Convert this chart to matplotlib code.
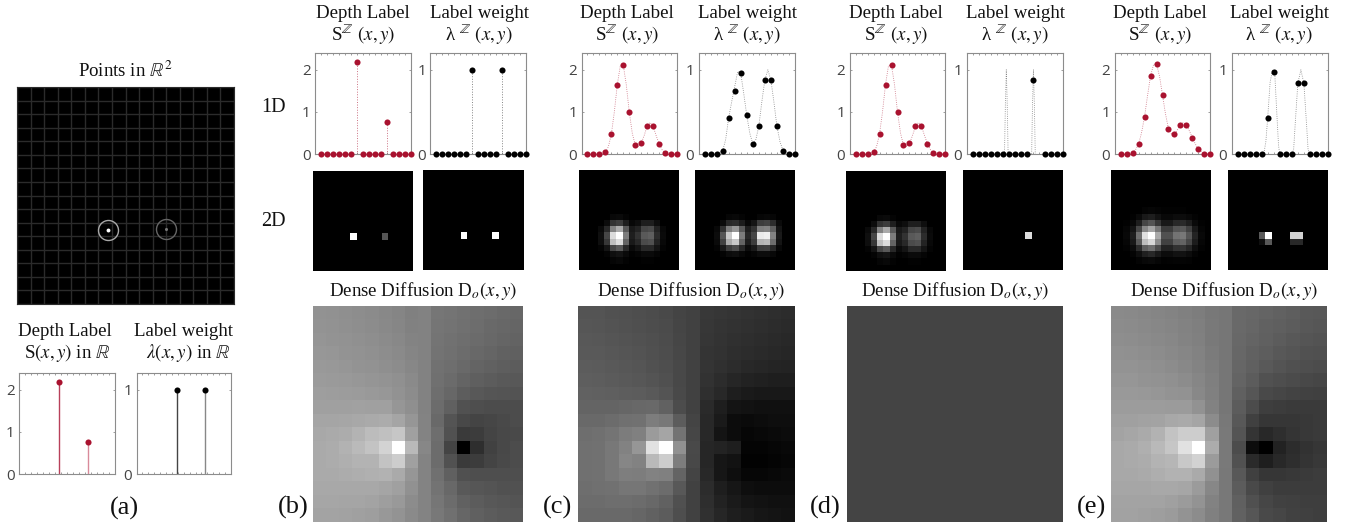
import matplotlib
matplotlib.use('Agg')
import matplotlib.pyplot as plt
from matplotlib.transforms import Bbox
import numpy as np

W, H = 1346, 525
RED = '#A9122F'
TICK_GREY = '#444444'
SPINE_GREY = '#8c8c8c'

plt.rcParams['font.family'] = ['Liberation Serif', 'DejaVu Serif']
plt.rcParams['mathtext.fontset'] = 'stix'

POSITIONS = list(range(1, 17))

# panel (a): continuous labels
a_stem_x = [6.7, 11.45]
a_depth = [2.18, 0.75]
a_weight_x = [6.8, 11.55]
a_weight = [1.0, 1.0]

# panel (b)
b_depth = [0, 0, 0, 0, 0, 0, 2.18, 0, 0, 0, 0, 0.75, 0, 0, 0, 0]
b_weight = [0, 0, 0, 0, 0, 0, 1, 0, 0, 0, 0, 1, 0, 0, 0, 0]

# panels (c) and (d) share the depth curve
c_depth = [0, 0, 0, 0.05, 0.47, 1.65, 2.11, 1.0, 0.21, 0.25, 0.66, 0.66, 0.24, 0.03, 0, 0]
c_weight = [0, 0, 0, 0.04, 0.43, 0.75, 0.96, 0.46, 0.12, 0.33, 0.88, 0.88, 0.33, 0.04, 0, 0]
d_weight_x = [1, 2, 3, 4, 5, 6, 7, 8, 9, 10, 11, 13, 14, 15, 16]
d_weight = [0, 0, 0, 0, 0, 0, 0, 0, 0, 0, 0.88, 0, 0, 0, 0]

# panel (e)
e_depth = [0, 0, 0.03, 0.23, 0.88, 1.85, 2.14, 1.4, 0.6, 0.47, 0.7, 0.69, 0.38, 0.11, 0.01, 0]
e_weight_x = [1, 2, 3, 4, 5, 6, 7, 8, 9, 10, 11, 12, 13, 14, 15, 16]
e_weight = [0, 0, 0, 0, 0, 0.43, 0.98, 0, 0, 0, 0.84, 0.84, 0, 0, 0, 0]

# dotted guide curves
curve_x = [3, 3.5, 4, 4.5, 5, 5.5, 6, 6.5, 7, 7.5, 8, 8.5, 9, 9.5, 10, 10.5, 11, 11.5, 12, 12.5, 13, 13.5, 14, 14.5, 15, 16]
c_depth_curve = [0, 0.01, 0.05, 0.17, 0.47, 1.0, 1.65, 2.1, 2.11, 1.65, 1.0, 0.5, 0.21, 0.18, 0.25, 0.44, 0.66, 0.75, 0.66, 0.44, 0.24, 0.1, 0.03, 0.01, 0, 0]
c_weight_curve = [0, 0.01, 0.04, 0.17, 0.43, 0.62, 0.8, 0.98, 0.96, 0.72, 0.46, 0.25, 0.12, 0.17, 0.33, 0.62, 0.88, 1.0, 0.88, 0.62, 0.33, 0.15, 0.04, 0.01, 0, 0]
e_depth_curve = [0.03, 0.1, 0.23, 0.5, 0.88, 1.38, 1.85, 2.12, 2.14, 1.85, 1.4, 0.95, 0.6, 0.48, 0.47, 0.58, 0.7, 0.75, 0.69, 0.54, 0.38, 0.23, 0.11, 0.05, 0.01, 0]
d_spike_x = [6.3, 6.45, 6.6, 6.75, 6.9, 10.8, 10.95, 11.1, 11.25, 11.4]
d_spike = [0, 0.6, 1.0, 0.6, 0, 0, 0.6, 1.0, 0.6, 0]
e_bell_x = [5, 5.4, 5.7, 6, 6.4, 6.8, 7.2, 7.5, 7.8, 8, 10, 10.3, 10.6, 11, 11.5, 12, 12.4, 12.7, 13]
e_bell = [0, 0.02, 0.15, 0.43, 0.85, 1.0, 0.92, 0.5, 0.1, 0, 0, 0.05, 0.4, 0.84, 1.0, 0.84, 0.4, 0.05, 0]

# 2D label images, first listed row then downwards (grey level 0-255)
b_depth_2d = {10: [0, 0, 0, 0, 0, 0, 255, 0, 0, 0, 0, 85, 0, 0, 0, 0]}
b_weight_2d = {10: [0, 0, 0, 0, 0, 0, 255, 0, 0, 0, 0, 255, 0, 0, 0, 0]}
c_depth_2d = {
    7: [0, 0, 0, 0, 0, 8, 10, 4, 0, 0, 0, 0, 0, 0, 0, 0],
    8: [0, 0, 0, 0, 12, 50, 60, 30, 8, 14, 30, 30, 14, 0, 0, 0],
    9: [0, 0, 0, 10, 40, 130, 170, 90, 25, 35, 70, 75, 35, 8, 0, 0],
    10: [0, 0, 0, 15, 70, 220, 255, 125, 30, 50, 90, 95, 45, 10, 0, 0],
    11: [0, 0, 0, 14, 55, 190, 220, 100, 25, 40, 75, 80, 35, 8, 0, 0],
    12: [0, 0, 0, 4, 20, 70, 90, 40, 10, 20, 40, 40, 20, 4, 0, 0],
    13: [0, 0, 0, 0, 4, 15, 20, 10, 2, 5, 10, 10, 5, 0, 0, 0],
    14: [0, 0, 0, 0, 0, 5, 8, 3, 0, 0, 2, 2, 0, 0, 0, 0],
}
c_weight_2d = {
    7: [0, 0, 0, 0, 0, 6, 8, 4, 0, 0, 6, 8, 6, 0, 0, 0],
    8: [0, 0, 0, 0, 12, 40, 45, 28, 8, 20, 60, 65, 45, 10, 0, 0],
    9: [0, 0, 0, 8, 50, 125, 150, 90, 30, 50, 125, 130, 95, 20, 0, 0],
    10: [0, 0, 0, 12, 85, 200, 255, 125, 40, 70, 235, 240, 130, 25, 0, 0],
    11: [0, 0, 0, 10, 65, 170, 200, 100, 30, 60, 180, 185, 110, 20, 0, 0],
    12: [0, 0, 0, 4, 25, 60, 75, 40, 12, 25, 60, 62, 40, 8, 0, 0],
    13: [0, 0, 0, 0, 4, 12, 15, 8, 2, 6, 12, 12, 8, 0, 0, 0],
}
d_weight_2d = {10: [0, 0, 0, 0, 0, 0, 0, 0, 0, 0, 220, 0, 0, 0, 0, 0]}
e_depth_2d = {
    6: [0, 0, 0, 0, 0, 4, 6, 4, 2, 2, 2, 2, 0, 0, 0, 0],
    7: [0, 0, 0, 2, 10, 25, 30, 18, 8, 8, 12, 12, 8, 3, 0, 0],
    8: [0, 0, 2, 8, 30, 70, 85, 55, 25, 25, 40, 42, 30, 10, 2, 0],
    9: [0, 0, 6, 20, 70, 135, 165, 120, 60, 60, 85, 90, 65, 25, 5, 0],
    10: [0, 0, 8, 30, 110, 225, 255, 170, 80, 80, 115, 120, 85, 35, 8, 0],
    11: [0, 0, 6, 25, 90, 190, 215, 140, 65, 65, 95, 100, 70, 28, 6, 0],
    12: [0, 0, 3, 12, 45, 95, 110, 75, 35, 35, 50, 52, 38, 14, 3, 0],
    13: [0, 0, 0, 4, 15, 32, 40, 25, 12, 12, 18, 18, 12, 4, 0, 0],
    14: [0, 0, 0, 0, 4, 8, 10, 6, 2, 3, 4, 4, 3, 0, 0, 0],
}
e_weight_2d = {
    10: [0, 0, 0, 0, 0, 90, 255, 0, 0, 0, 210, 210, 0, 0, 0, 0],
    11: [0, 0, 0, 0, 0, 15, 90, 0, 0, 0, 40, 40, 0, 0, 0, 0],
}

# dense diffusion output, grey level per cell
b_dense = [
    [146, 145, 143, 141, 139, 136, 133, 128, 130, 118, 116, 113, 110, 108, 105, 103],
    [147, 146, 144, 142, 140, 137, 134, 129, 130, 117, 115, 112, 109, 106, 103, 101],
    [149, 148, 146, 144, 142, 139, 136, 131, 130, 116, 114, 110, 107, 104, 101, 99],
    [151, 150, 148, 146, 144, 141, 138, 133, 130, 115, 112, 108, 104, 101, 98, 96],
    [153, 152, 150, 148, 146, 143, 140, 135, 130, 114, 110, 105, 100, 97, 94, 92],
    [155, 154, 153, 151, 149, 147, 144, 138, 130, 112, 107, 100, 95, 92, 90, 88],
    [158, 157, 156, 155, 153, 151, 146, 140, 130, 110, 103, 93, 88, 85, 84, 83],
    [160, 160, 160, 161, 160, 160, 150, 143, 130, 108, 96, 82, 78, 76, 76, 76],
    [165, 165, 166, 168, 170, 172, 165, 150, 131, 105, 84, 72, 68, 70, 74, 76],
    [168, 170, 172, 180, 188, 192, 198, 160, 132, 110, 82, 58, 60, 68, 72, 74],
    [170, 172, 178, 186, 195, 212, 255, 185, 135, 108, 68, 0, 46, 66, 72, 76],
    [170, 172, 175, 180, 180, 195, 205, 160, 132, 108, 82, 58, 60, 68, 74, 76],
    [170, 170, 172, 174, 176, 178, 170, 150, 132, 112, 96, 80, 78, 78, 78, 78],
    [168, 168, 168, 168, 168, 165, 160, 145, 132, 115, 104, 90, 86, 84, 82, 82],
    [166, 166, 165, 165, 163, 158, 153, 140, 132, 118, 108, 98, 92, 88, 86, 84],
    [163, 163, 162, 160, 158, 152, 148, 138, 131, 120, 112, 102, 96, 92, 90, 88],
]
c_dense = [
    [84, 84, 82, 80, 78, 76, 74, 68, 66, 56, 54, 52, 50, 48, 46, 44],
    [86, 85, 83, 81, 79, 77, 75, 69, 66, 55, 53, 50, 48, 46, 44, 42],
    [88, 87, 85, 83, 81, 79, 76, 70, 66, 54, 51, 48, 46, 44, 42, 40],
    [90, 89, 87, 85, 83, 80, 77, 71, 66, 53, 50, 46, 44, 42, 40, 38],
    [92, 91, 89, 87, 85, 82, 78, 72, 66, 52, 48, 44, 40, 38, 36, 35],
    [94, 93, 91, 89, 87, 84, 80, 72, 66, 50, 45, 38, 34, 32, 30, 30],
    [97, 96, 95, 93, 92, 90, 84, 73, 66, 47, 40, 30, 26, 24, 24, 24],
    [100, 100, 100, 102, 104, 106, 98, 76, 66, 42, 30, 20, 18, 16, 16, 16],
    [106, 106, 108, 112, 114, 125, 120, 92, 68, 40, 26, 12, 10, 12, 14, 14],
    [110, 112, 116, 124, 128, 155, 165, 115, 70, 40, 20, 12, 6, 8, 10, 12],
    [112, 114, 120, 130, 150, 225, 255, 145, 74, 38, 35, 30, 4, 4, 6, 8],
    [112, 114, 120, 134, 130, 185, 205, 125, 72, 38, 22, 18, 2, 2, 4, 6],
    [112, 114, 120, 126, 125, 130, 128, 100, 68, 40, 22, 14, 6, 6, 8, 10],
    [110, 112, 114, 118, 118, 114, 108, 88, 66, 44, 30, 22, 14, 12, 12, 12],
    [108, 108, 110, 110, 108, 104, 98, 80, 66, 46, 34, 26, 20, 18, 16, 16],
    [106, 106, 106, 105, 102, 98, 92, 78, 66, 48, 38, 30, 26, 22, 20, 18],
]
d_dense = [[68] * 16 for row in range(16)]
e_dense = [
    [138, 137, 135, 133, 131, 128, 125, 120, 118, 106, 103, 100, 97, 94, 90, 88],
    [140, 139, 137, 135, 133, 130, 127, 121, 118, 105, 102, 98, 95, 92, 88, 86],
    [142, 141, 139, 137, 135, 132, 128, 122, 118, 104, 100, 96, 92, 88, 85, 83],
    [145, 144, 142, 140, 137, 134, 130, 123, 118, 103, 98, 93, 88, 85, 82, 80],
    [148, 147, 145, 143, 140, 136, 132, 125, 118, 102, 96, 90, 84, 80, 78, 76],
    [150, 150, 148, 146, 144, 140, 134, 127, 118, 100, 92, 82, 78, 75, 72, 70],
    [153, 153, 152, 150, 148, 146, 136, 128, 118, 96, 86, 74, 70, 67, 65, 64],
    [156, 156, 156, 156, 155, 155, 146, 130, 118, 92, 76, 62, 60, 58, 58, 58],
    [160, 160, 162, 164, 168, 170, 165, 140, 120, 88, 64, 54, 54, 54, 56, 58],
    [164, 166, 170, 178, 195, 205, 205, 160, 122, 84, 52, 40, 46, 52, 56, 58],
    [168, 170, 175, 185, 198, 225, 255, 172, 122, 76, 12, 0, 34, 44, 50, 54],
    [168, 170, 172, 180, 182, 200, 210, 155, 122, 82, 42, 30, 40, 46, 52, 56],
    [168, 168, 170, 174, 178, 178, 170, 145, 120, 88, 64, 54, 54, 56, 58, 60],
    [166, 166, 166, 168, 168, 166, 155, 135, 120, 92, 74, 64, 60, 60, 60, 60],
    [164, 164, 163, 163, 160, 155, 148, 130, 120, 96, 80, 70, 66, 64, 62, 62],
    [162, 162, 160, 158, 155, 148, 140, 128, 120, 98, 86, 74, 70, 66, 64, 62],
]


def px_axes(fig, x0, y0, x1, y1):
    # pixel box with y counted from the top of the image
    return fig.add_axes([x0 / W, 1 - y1 / H, (x1 - x0) / W, (y1 - y0) / H])


def label(fig, x, y, s, size=13.6, clip=False):
    t = fig.text(x / W, 1 - (y + 1) / H, s, ha='center', va='center', fontsize=size, color='#111111')
    if clip:
        t.set_clip_box(Bbox([[0, 0], [1329, H]]))
        t.set_clip_on(True)
    return t


def style_line_axes(ax, top, yticks):
    ax.set_xlim(0, 16)
    ax.set_ylim(0, top)
    ax.set_xticks(range(0, 17))
    ax.set_xticklabels([])
    ax.set_yticks(yticks)
    ax.tick_params(axis='both', direction='in', top=True, right=True, length=1.5, width=0.5,
                   color='#777777', labelcolor=TICK_GREY, pad=3)
    ax.tick_params(axis='y', labelsize=11)
    for lab in ax.get_yticklabels():
        lab.set_family('Open Sans')
    for spine in ax.spines.values():
        spine.set_color(SPINE_GREY)
        spine.set_linewidth(0.8)


def dots(ax, x, y, color):
    ax.plot(x, y, ls='none', marker='o', ms=4.4, color=color, mew=0, clip_on=False, zorder=5)


def guide(ax, x, y, color):
    ax.plot(x, y, ls=':', lw=0.6, color=color, alpha=0.6, clip_on=False)


def stems(ax, x, y, color):
    for xi, yi in zip(x, y):
        if yi > 0:
            ax.plot([xi, xi], [0, yi], ls=':', lw=0.7, color=color, alpha=0.6)


def image_2d(fig, box, rows):
    data = np.zeros((16, 16))
    for r, values in rows.items():
        data[r] = values
    ax = px_axes(fig, *box)
    ax.imshow(data, cmap='gray', vmin=0, vmax=255, interpolation='nearest', aspect='auto')
    ax.axis('off')


def image_dense(fig, box, rows):
    ax = px_axes(fig, *box)
    ax.imshow(np.array(rows), cmap='gray', vmin=0, vmax=255, interpolation='nearest', aspect='auto')
    ax.axis('off')


def main():
    fig = plt.figure(figsize=(W / 100, H / 100), dpi=100, facecolor='white')

    # panel (a)
    label(fig, 125, 70, r'Points in $\mathbb{R}^2$')
    ax = px_axes(fig, 17, 87, 234, 304)
    ax.set_facecolor('black')
    ax.set_xlim(0, 16)
    ax.set_ylim(16, 0)
    ax.set_xticks(range(17))
    ax.set_yticks(range(17))
    ax.grid(color='#2b2b2b', lw=1)
    ax.tick_params(length=0, labelleft=False, labelbottom=False)
    for spine in ax.spines.values():
        spine.set_color('#2b2b2b')
    ax.plot(6.73, 10.55, 'o', ms=14.4, mfc='none', mec='#a8a8a8', mew=1.0)
    ax.plot(6.73, 10.55, 'o', ms=2.8, color='white', mew=0)
    ax.plot(10.97, 10.47, 'o', ms=14.4, mfc='none', mec='#666666', mew=1.0)
    ax.plot(10.97, 10.47, 'o', ms=2.2, color='#777777', mew=0)

    label(fig, 65, 331, 'Depth Label')
    label(fig, 67, 352, r'S$(x,y)$ in $\mathbb{R}$')
    label(fig, 184, 331, 'Label weight')
    label(fig, 188, 352, r'$\lambda(x,y)$ in $\mathbb{R}$')

    ax = px_axes(fig, 19, 373, 115, 474)
    style_line_axes(ax, 2.4, [0, 1, 2])
    ax.vlines(a_stem_x, 0, a_depth, color=['#b8405a', '#d98a9a'], lw=1)
    dots(ax, a_stem_x, a_depth, RED)
    ax = px_axes(fig, 136.5, 373, 231, 474)
    style_line_axes(ax, 1.2, [0, 1])
    ax.vlines(a_weight_x, 0, a_weight, color=['#444444', '#888888'], lw=1)
    dots(ax, a_weight_x, a_weight, 'black')

    # line plots of the four discretisations
    label(fig, 273, 107, '1D', size=14.5)
    label(fig, 273, 220, '2D', size=14.5)

    ax = px_axes(fig, 315, 53, 411, 154)
    style_line_axes(ax, 2.4, [0, 1, 2])
    stems(ax, POSITIONS, b_depth, RED)
    dots(ax, POSITIONS, b_depth, RED)
    ax = px_axes(fig, 430.5, 53, 526, 154)
    style_line_axes(ax, 1.2, [0, 1])
    stems(ax, POSITIONS, b_weight, '#333333')
    dots(ax, POSITIONS, b_weight, 'black')

    ax = px_axes(fig, 581.5, 53, 677, 154)
    style_line_axes(ax, 2.4, [0, 1, 2])
    guide(ax, curve_x, c_depth_curve, RED)
    dots(ax, POSITIONS, c_depth, RED)
    ax = px_axes(fig, 698.5, 53, 795, 154)
    style_line_axes(ax, 1.2, [0, 1])
    guide(ax, curve_x, c_weight_curve, '#333333')
    dots(ax, POSITIONS, c_weight, 'black')

    ax = px_axes(fig, 849.5, 53, 945.5, 154)
    style_line_axes(ax, 2.4, [0, 1, 2])
    guide(ax, curve_x, c_depth_curve, RED)
    dots(ax, POSITIONS, c_depth, RED)
    ax = px_axes(fig, 966.5, 53, 1063, 154)
    style_line_axes(ax, 1.2, [0, 1])
    guide(ax, d_spike_x, d_spike, '#333333')
    dots(ax, d_weight_x, d_weight, 'black')

    ax = px_axes(fig, 1114.5, 53, 1210.5, 154)
    style_line_axes(ax, 2.4, [0, 1, 2])
    guide(ax, curve_x, e_depth_curve, RED)
    dots(ax, POSITIONS, e_depth, RED)
    ax = px_axes(fig, 1231.5, 53, 1328, 154)
    style_line_axes(ax, 1.2, [0, 1])
    guide(ax, e_bell_x, e_bell, '#333333')
    dots(ax, e_weight_x, e_weight, 'black')

    # headers above the columns
    for depth_x, weight_x in [(363, 479), (627, 747), (896, 1015), (1160, 1279)]:
        label(fig, depth_x, 12, 'Depth Label')
        label(fig, depth_x, 34, r'S$^{\mathbb{Z}}$ $(x,y)$')
        label(fig, weight_x, 12, 'Label weight', clip=True)
        label(fig, weight_x, 34, r'λ $^{\mathbb{Z}}$ $(x,y)$')

    # 2D label images
    image_2d(fig, (313, 171, 413, 271), b_depth_2d)
    image_2d(fig, (423, 170, 524, 270), b_weight_2d)
    image_2d(fig, (579, 170, 679, 270), c_depth_2d)
    image_2d(fig, (695, 170, 795, 270), c_weight_2d)
    image_2d(fig, (846, 171, 946, 271), c_depth_2d)
    image_2d(fig, (963, 170, 1063, 270), d_weight_2d)
    image_2d(fig, (1111, 170, 1211, 270), e_depth_2d)
    image_2d(fig, (1228, 170, 1328, 270), e_weight_2d)

    # dense diffusion images
    image_dense(fig, (313, 306, 523, 522), b_dense)
    image_dense(fig, (578, 306, 795, 522), c_dense)
    image_dense(fig, (847, 306, 1063, 522), d_dense)
    image_dense(fig, (1111, 306, 1327, 522), e_dense)
    for center in [423, 691, 955, 1224]:
        label(fig, center, 290, r'Dense Diffusion D$_o(x,y)$')

    for x, y, s in [(124, 507, '(a)'), (293, 506, '(b)'), (558, 506, '(c)'), (825, 506, '(d)'), (1092, 506, '(e)')]:
        label(fig, x, y, s, size=19)

    fig.savefig('out.png', dpi=100)


if __name__ == "__main__":
    main()
